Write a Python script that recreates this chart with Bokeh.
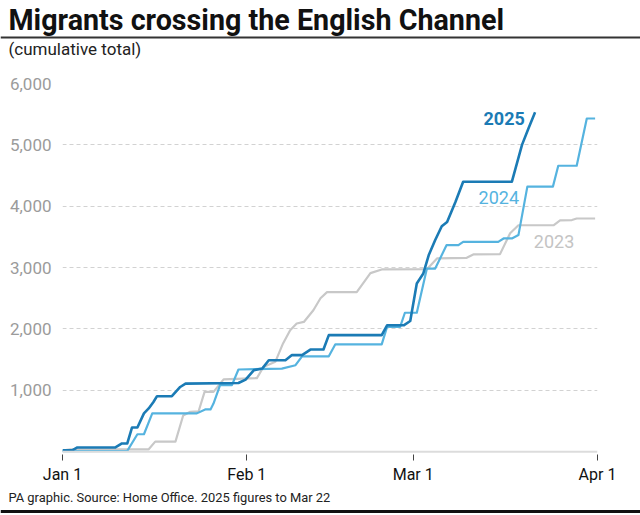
from bokeh.plotting import figure
from bokeh.layouts import column
from bokeh.models import Range1d, FixedTicker, NumeralTickFormatter, Label, Span
from bokeh.core.properties import value
from bokeh.embed import file_html
from bokeh.resources import INLINE

# x = days since Jan 1, y = cumulative migrants
DAYS_2025 = [0, 1.7, 2.5, 8.9, 10.0, 10.9, 11.7, 12.6, 13.7, 14.5, 15.3, 15.9, 18.4, 19.8, 20.7,
             29.6, 30.8, 32.2, 33.6, 34.7, 37.5, 38.6, 40.3, 41.7, 43.9, 44.8, 53.7, 54.6, 57.4,
             58.5, 59.6, 60.7, 61.6, 62.7, 63.8, 64.7, 66.1, 67.4, 75.6, 77.3, 78.4, 79.5]
VALUES_2025 = [25, 25, 70, 70, 135, 135, 395, 395, 625, 705, 810, 905, 905, 1055, 1110,
               1120, 1175, 1330, 1355, 1490, 1490, 1575, 1575, 1665, 1665, 1900, 1900, 2060, 2060,
               2130, 2740, 2905, 3200, 3450, 3675, 3745, 4070, 4400, 4400, 5000, 5270, 5530]

DAYS_2024 = [0, 10.9, 12.6, 13.7, 15.1, 22.6, 24.0, 24.9, 25.4, 26.3, 26.5, 28.5, 29.6, 36.9,
             39.2, 40.3, 44.8, 45.9, 53.7, 54.6, 56.8, 57.6, 59.6, 61.3, 62.7, 64.6, 66.6, 67.4,
             73.3, 74.2, 75.6, 76.7, 78.2, 82.5, 83.4, 86.5, 88.2, 89.6]
VALUES_2024 = [10, 15, 285, 285, 625, 625, 690, 690, 785, 1030, 1085, 1085, 1340, 1355,
               1410, 1555, 1555, 1750, 1750, 2035, 2035, 2265, 2265, 2985, 2985, 3365, 3365, 3420,
               3420, 3475, 3475, 3530, 4320, 4320, 4660, 4660, 5430, 5430]

DAYS_2023 = [0, 1.3, 14.5, 15.6, 19.0, 20.3, 21.5, 22.9, 23.9, 25.4, 27.1, 32.7, 33.8, 35.8,
             37.1, 38.3, 39.4, 40.6, 42.2, 43.4, 44.5, 49.5, 51.8, 53.7, 61.3, 63.0, 68.0, 69.1,
             73.6, 75.3, 76.7, 82.6, 83.7, 85.7, 86.5, 89.6]
VALUES_2023 = [20, 40, 40, 165, 165, 590, 650, 660, 975, 975, 1180, 1200, 1380, 1465,
               1765, 1980, 2090, 2115, 2305, 2500, 2600, 2600, 2910, 2970, 2975, 3150, 3160, 3215,
               3220, 3560, 3690, 3690, 3770, 3775, 3800, 3800]

TICK_DAYS = [0, 31, 59, 90]
TICK_LABELS = ["Jan 1", "Feb 1", "Mar 1", "Apr 1"]
Y_TICKS = [1000, 2000, 3000, 4000, 5000, 6000]

TITLE = "Migrants crossing the English Channel"
SUBTITLE = "(cumulative total)"
FOOTER = "PA graphic. Source: Home Office. 2025 figures to Mar 22"

C2025 = "#1b7bb5"
C2024 = "#55b3df"
C2023 = "#c8c8c8"
FONT = "Roboto"
W = 640


def no_align(f):
    try:
        f.frame_align = False
    except Exception:
        pass


def strip(h):
    f = figure(width=W, height=h, output_backend="svg", toolbar_location=None,
               x_range=Range1d(0, W), y_range=Range1d(h, 0),
               x_axis_type=None, y_axis_type=None,
               min_border=0, min_border_left=0, min_border_right=0,
               min_border_top=0, min_border_bottom=0)
    f.outline_line_color = None
    f.xgrid.visible = False
    f.ygrid.visible = False
    f.background_fill_color = "white"
    f.border_fill_color = "white"
    no_align(f)
    return f


# ---- header ----
header = strip(60)
header.text(x=[8], y=[19], text=[TITLE], text_font=value(FONT), text_font_style="bold",
            text_font_size=value("28.7px"), text_color="#111111", text_baseline="middle")
header.quad(left=[0], right=[W], top=[36], bottom=[38], fill_color="#333333", line_color=None)
header.text(x=[8], y=[48], text=[SUBTITLE], text_font=value(FONT),
            text_font_size=value("17px"), text_color="#222222", text_baseline="middle")

# ---- main chart ----
p = figure(width=W, height=428, output_backend="svg", toolbar_location=None,
           x_range=Range1d(0, 90), y_range=Range1d(-45, 6000),
           min_border_left=62, min_border_right=43, min_border_top=23, min_border_bottom=34)
p.outline_line_color = None
p.background_fill_color = "white"
p.border_fill_color = "white"
no_align(p)

p.xgrid.visible = False
p.ygrid.ticker = FixedTicker(ticks=Y_TICKS)
p.ygrid.grid_line_color = "#d2d2d2"
p.ygrid.grid_line_dash = "4 3"
p.ygrid.grid_line_width = 1

p.yaxis.ticker = FixedTicker(ticks=Y_TICKS)
p.yaxis.formatter = NumeralTickFormatter(format="0,0")
p.yaxis.axis_line_color = None
p.yaxis.major_tick_line_color = None
p.yaxis.minor_tick_line_color = None
p.yaxis.major_tick_in = 0
p.yaxis.major_tick_out = 0
p.yaxis.minor_tick_in = 0
p.yaxis.minor_tick_out = 0
p.yaxis.major_label_text_color = "#9b9b9b"
p.yaxis.major_label_text_font = FONT
p.yaxis.major_label_text_font_size = "17px"
p.yaxis.major_label_standoff = 11

p.xaxis.ticker = FixedTicker(ticks=TICK_DAYS)
p.xaxis.major_label_overrides = {d: l for d, l in zip(TICK_DAYS, TICK_LABELS)}
p.xaxis.axis_line_color = None
p.xaxis.minor_tick_line_color = None
p.xaxis.minor_tick_in = 0
p.xaxis.minor_tick_out = 0
p.xaxis.major_tick_line_color = "#444444"
p.xaxis.major_tick_line_width = 1
p.xaxis.major_tick_in = 0
p.xaxis.major_tick_out = 6
p.xaxis.major_label_standoff = 4
p.xaxis.major_label_text_color = "#111111"
p.xaxis.major_label_text_font = FONT
p.xaxis.major_label_text_font_size = "16px"

p.add_layout(Span(location=0, dimension="width", line_color="#dcdcdc", line_width=2))

p.line(DAYS_2023, VALUES_2023, line_color=C2023, line_width=2.2, line_join="round")
p.line(DAYS_2024, VALUES_2024, line_color=C2024, line_width=2.2, line_join="round")
p.line(DAYS_2025, VALUES_2025, line_color=C2025, line_width=2.6, line_join="round")

p.add_layout(Label(x=74.3, y=5436, text="2025", text_align="center", text_baseline="middle",
                   text_font=FONT, text_font_style="bold", text_font_size="18px", text_color=C2025))
p.add_layout(Label(x=73.4, y=4148, text="2024", text_align="center", text_baseline="middle",
                   text_font=FONT, text_font_size="18px", text_color=C2024))
p.add_layout(Label(x=82.7, y=3431, text="2023", text_align="center", text_baseline="middle",
                   text_font=FONT, text_font_size="18px", text_color="#c4c4c4"))

# ---- footer ----
footer = strip(27)
footer.text(x=[8], y=[9], text=[FOOTER], text_font=value(FONT),
            text_font_size=value("12.9px"), text_color="#222222", text_baseline="middle")
footer.quad(left=[0], right=[W], top=[21.5], bottom=[24.5], fill_color="#111111", line_color=None)

layout = column(header, p, footer, spacing=0)
open("out.html", "w").write(file_html(layout, INLINE))
